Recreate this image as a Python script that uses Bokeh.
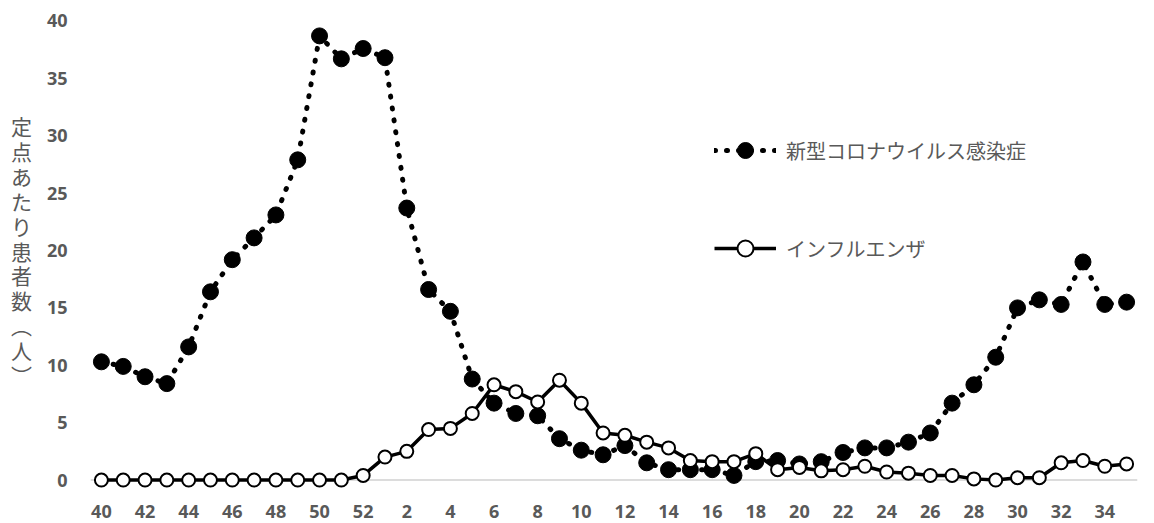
from bokeh.plotting import figure
from bokeh.models import FixedTicker, Span, Legend, LegendItem
from bokeh.embed import file_html
from bokeh.resources import INLINE

weeks = list(range(40, 53)) + list(range(1, 36))
covid = [10.3, 9.9, 9.0, 8.4, 11.6, 16.4, 19.2, 21.1, 23.1, 27.9, 38.7, 36.7, 37.6,
         36.8, 23.7, 16.6, 14.7, 8.8, 6.7, 5.8, 5.6, 3.6, 2.6,
         2.2, 3.0, 1.5, 0.9, 0.9, 0.9, 0.4, 1.6, 1.7, 1.4,
         1.6, 2.4, 2.8, 2.8, 3.3, 4.1, 6.7, 8.3, 10.7, 15.0,
         15.7, 15.3, 19.0, 15.3, 15.5]
flu = [0, 0, 0, 0, 0, 0, 0, 0, 0, 0, 0, 0, 0.4,
       2.0, 2.5, 4.4, 4.5, 5.8, 8.3, 7.7, 6.8, 8.7, 6.7,
       4.1, 3.9, 3.3, 2.8, 1.7, 1.6, 1.6, 2.3, 0.9, 1.1,
       0.8, 0.9, 1.2, 0.7, 0.6, 0.4, 0.4, 0.1, 0.0, 0.2,
       0.2, 1.5, 1.7, 1.2, 1.4]
y_ticks = [0, 5, 10, 15, 20, 25, 30, 35, 40]
series_names = ["新型コロナウイルス感染症", "インフルエンザ"]
y_title = "定点あたり患者数（人）"

xs = list(range(len(weeks)))

p = figure(width=1154, height=523, x_range=(-0.5, 47.5), y_range=(-1, 41),
           output_backend="svg", toolbar_location=None,
           min_border_left=90, min_border_right=17, min_border_top=9, min_border_bottom=32)
p.outline_line_color = None
p.grid.visible = False

gray = "#595959"
# x axis
p.xaxis.ticker = FixedTicker(ticks=xs[::2])
p.xaxis.major_label_overrides = {i: str(weeks[i]) for i in xs[::2]}
p.xaxis.axis_line_color = None
p.xaxis.major_tick_line_color = None
p.xaxis.minor_tick_line_color = None
p.xaxis.major_label_standoff = 7
p.xaxis.major_label_text_font = "Open Sans"
p.xaxis.major_label_text_font_style = "bold"
p.xaxis.major_label_text_font_size = "18px"
p.xaxis.major_label_text_color = gray
# y axis
p.yaxis.ticker = FixedTicker(ticks=y_ticks)
p.yaxis.axis_line_color = None
p.yaxis.major_tick_line_color = None
p.yaxis.minor_tick_line_color = None
p.yaxis.major_label_standoff = 17
p.yaxis.major_label_text_font = "Open Sans"
p.yaxis.major_label_text_font_style = "bold"
p.yaxis.major_label_text_font_size = "18px"
p.yaxis.major_label_text_color = gray
vert = y_title.replace("（", "︵").replace("）", "︶")
p.yaxis.axis_label = "\n".join(vert)
p.yaxis.axis_label_orientation = "horizontal"
p.yaxis.axis_label_text_font = "Noto Sans CJK JP"
p.yaxis.axis_label_text_font_style = "normal"
p.yaxis.axis_label_text_font_size = "21px"
p.yaxis.axis_label_text_line_height = 0.83
p.yaxis.axis_label_text_color = gray
p.yaxis.axis_label_standoff = 12

p.add_layout(Span(location=0, dimension="width", line_color="#d0d0d0", line_width=1.5, level="underlay"))

c_line = p.line(xs, covid, line_color="black", line_width=5, line_dash="1 11", line_cap="round")
c_pts = p.scatter(xs, covid, size=16, fill_color="black", line_color="black")
f_line = p.line(xs, flu, line_color="black", line_width=3.5)
f_pts = p.scatter(xs, flu, size=13, fill_color="white", line_color="black", line_width=2)

legend = Legend(items=[LegendItem(label=series_names[0], renderers=[c_line, c_pts]),
                       LegendItem(label=series_names[1], renderers=[f_line, f_pts])],
                location=(624, 223), orientation="vertical",
                glyph_width=62, glyph_height=40, label_height=40, spacing=58,
                label_standoff=10, padding=0, margin=0,
                label_text_font="Noto Sans CJK JP", label_text_font_size="20px",
                label_text_color=gray, background_fill_alpha=0, border_line_color=None)
p.add_layout(legend)

open("out.html", "w").write(file_html(p, INLINE))
